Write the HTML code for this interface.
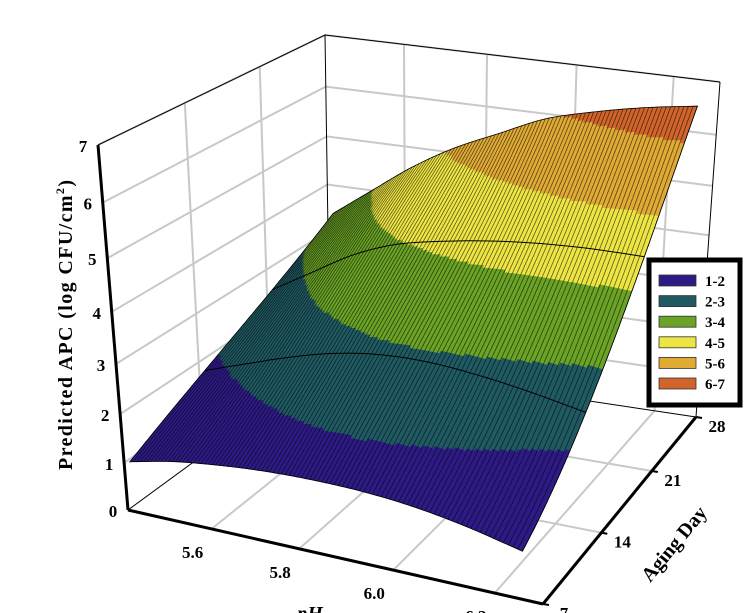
<!DOCTYPE html>
<html><head><meta charset="utf-8"><style>
html,body{margin:0;padding:0;background:#fff;width:749px;height:613px;overflow:hidden}
svg{display:block;font-family:"Liberation Serif",serif;font-weight:bold}
</style></head><body>
<svg id="chart" width="749" height="613" viewBox="0 0 749 613" xmlns="http://www.w3.org/2000/svg">
<g id="walls"></g>
<g id="surface"></g>
<g id="axes"></g>
<g id="legend"></g>
</svg>
<script>
// ---- data ----
const phValues = [5.41, 5.515, 5.62, 5.725, 5.83, 5.935, 6.04, 6.145, 6.25];
const dayValues = [7, 14, 21, 28];
const zDay7  = [1.05, 1.25, 1.38, 1.47, 1.51, 1.50, 1.42, 1.25, 1.00];
const zDay14 = [1.85, 2.15, 2.45, 2.70, 2.85, 2.88, 2.80, 2.65, 2.45];
const zDay21 = [2.60, 3.10, 3.60, 3.95, 4.15, 4.30, 4.40, 4.45, 4.45];
const zDay28 = [3.40, 4.00, 4.60, 5.10, 5.50, 5.90, 6.15, 6.35, 6.50];
const zTicks = [0, 1, 2, 3, 4, 5, 6, 7];
const phTicks = ["5.6", "5.8", "6.0", "6.2"];
const dayTicks = ["7", "14", "21", "28"];
const bandLabels = ["1-2", "2-3", "3-4", "4-5", "5-6", "6-7"];
const bandColors = ["#2e1a85", "#1f5a63", "#6aa325", "#ede544", "#e0aa35", "#d0642a"];
const zRows = [zDay7, zDay14, zDay21, zDay28];

// ---- projection ----
const PH0 = 5.395, PH1 = 6.29, D0 = 7, D1 = 28, ZMAX = 7;
function hom(p0, p1, p2, p3) {
  const sx = p0[0]-p1[0]+p2[0]-p3[0], sy = p0[1]-p1[1]+p2[1]-p3[1];
  const dx1 = p1[0]-p2[0], dx2 = p3[0]-p2[0], dy1 = p1[1]-p2[1], dy2 = p3[1]-p2[1];
  const den = dx1*dy2 - dx2*dy1;
  const g = (sx*dy2 - dx2*sy)/den, h = (dx1*sy - sx*dy1)/den;
  const a = p1[0]-p0[0]+g*p1[0], b = p3[0]-p0[0]+h*p3[0], c = p0[0];
  const d = p1[1]-p0[1]+g*p1[1], e = p3[1]-p0[1]+h*p3[1], f = p0[1];
  return (u, v) => { const w = g*u + h*v + 1; return [(a*u+b*v+c)/w, (d*u+e*v+f)/w]; };
}
const floorH = hom([128,510],[543,604],[696,417],[330,362]);
const topH = hom([98,145],[555,233],[720,82],[325,35]);
function proj(u, v, w) {
  const f = floorH(u, v), t = topH(u, v);
  const a = 0.89, g = a*w/(1+(a-1)*w);
  return [f[0]+(t[0]-f[0])*g, f[1]+(t[1]-f[1])*g];
}
const uOf = ph => (ph - PH0)/(PH1 - PH0);
const vOf = d => (d - D0)/(D1 - D0);
const wOf = z => z/ZMAX;

// ---- interpolation ----
function cr(p0,p1,p2,p3,t){return 0.5*((2*p1)+(-p0+p2)*t+(2*p0-5*p1+4*p2-p3)*t*t+(-p0+3*p1-3*p2+p3)*t*t*t);}
function rowAt(row, ph) {
  const n = phValues.length;
  let i = 0; while (i < n-2 && ph > phValues[i+1]) i++;
  const t = (ph - phValues[i])/(phValues[i+1]-phValues[i]);
  const p0 = i > 0 ? row[i-1] : 2*row[0]-row[1];
  const p3 = i+2 < n ? row[i+2] : 2*row[n-1]-row[n-2];
  return cr(p0, row[i], row[i+1], p3, t);
}
function zAt(ph, day) {
  const vals = zRows.map(r => rowAt(r, ph));
  let s = 0;
  for (let i = 0; i < 4; i++) {
    let l = 1;
    for (let j = 0; j < 4; j++) if (j !== i) l *= (day - dayValues[j])/(dayValues[i]-dayValues[j]);
    s += l*vals[i];
  }
  return s;
}
const NS = "http://www.w3.org/2000/svg";
function mk(tag, attrs, parent) { const e = document.createElementNS(NS, tag); for (const k in attrs) e.setAttribute(k, attrs[k]); parent.appendChild(e); return e; }
const pt = p => p[0].toFixed(1)+","+p[1].toFixed(1);

// ---- walls & floor grid ----
const walls = document.getElementById("walls");
const gs = {stroke:"#c8c8c8","stroke-width":2,fill:"none"};
zTicks.slice(1).forEach(z => {
  const a = mk("polyline", Object.assign({points: pt(proj(0,0,wOf(z)))+" "+pt(proj(0,1,wOf(z)))+" "+pt(proj(1,1,wOf(z)))}, gs), walls);
  
  
});
phTicks.forEach(t => {
  const u = uOf(parseFloat(t));
  const a = mk("polyline", Object.assign({points: pt(proj(u,0,0))+" "+pt(proj(u,1,0))+" "+pt(proj(u,1,1))}, gs), walls);
  
  
});
dayTicks.slice(1,3).forEach(t => {
  const v = vOf(parseFloat(t));
  const a = mk("polyline", Object.assign({points: pt(proj(1,v,0))+" "+pt(proj(0,v,0))+" "+pt(proj(0,v,1))}, gs), walls);
  
  
});
const thin = {stroke:"#000","stroke-width":1,fill:"none"};
[[proj(0,0,1),proj(0,1,1),proj(1,1,1)],[proj(0,1,0),proj(0,1,1)],[proj(1,1,0),proj(1,1,1)],[proj(0,0,0),proj(0,1,0),proj(1,1,0)]].forEach(ps => {
  const a = mk("polyline", Object.assign({points: ps.map(pt).join(" ")}, thin), walls);
  
  
});

// ---- surface ----
const surf = document.getElementById("surface");
const P0 = phValues[0], P1 = phValues[phValues.length-1];
const NU = 120, NV = 150;
const grid = [];
for (let i = 0; i <= NU; i++) { grid.push([]); const ph = P0+(P1-P0)*i/NU;
  for (let j = 0; j <= NV; j++) { const d = D0+(D1-D0)*j/NV; const z = zAt(ph, d);
    grid[i].push({p: proj(uOf(ph), vOf(d), wOf(z)), z}); } }
const cells = [];
for (let i = 0; i < NU; i++) for (let j = 0; j < NV; j++) cells.push([i,j]);
cells.sort((a,b) => ((1-b[0]/NU)+b[1]/NV) - ((1-a[0]/NU)+a[1]/NV));
cells.forEach(([i,j]) => {
  const c = [grid[i][j], grid[i+1][j], grid[i+1][j+1], grid[i][j+1]];
  const z = (c[0].z+c[1].z+c[2].z+c[3].z)/4;
  const b = Math.max(0, Math.min(5, Math.floor(z)-1));
  const col = bandColors[b];
  const q = mk("polygon", {points: c.map(o => pt(o.p)).join(" "), fill: col, stroke: col, "stroke-width": 0.5}, surf);
  
  
});
// mesh lines along constant pH
const NM = 96;
for (let k = 0; k <= NM; k++) {
  const ph = P0+(P1-P0)*k/NM; const ps = [];
  for (let j = 0; j <= 30; j++) { const d = D0+(D1-D0)*j/30; ps.push(pt(proj(uOf(ph), vOf(d), wOf(zAt(ph,d))))); }
  const m = mk("polyline", {points: ps.join(" "), stroke:"#000", "stroke-opacity":0.6, "stroke-width":0.8, fill:"none"}, surf);
  
  
}
// constant day curves and outline
[14, 21].forEach(d => {
  const ps = []; for (let i = 0; i <= 40; i++) { const ph = P0+(P1-P0)*i/40; ps.push(pt(proj(uOf(ph), vOf(d), wOf(zAt(ph,d))))); }
  const m = mk("polyline", {points: ps.join(" "), stroke:"#000", "stroke-width":1, fill:"none"}, surf);
  
  
});
{
  const ps = [];
  for (let i = 0; i <= NU; i++) ps.push(pt(grid[i][0].p));
  for (let j = 0; j <= NV; j++) ps.push(pt(grid[NU][j].p));
  for (let i = NU; i >= 0; i--) ps.push(pt(grid[i][NV].p));
  for (let j = NV; j >= 0; j--) ps.push(pt(grid[0][j].p));
  const o = mk("polygon", {points: ps.join(" "), stroke:"#000", "stroke-width":0.8, fill:"none"}, surf);
  
  
}

// ---- axes ----
const axes = document.getElementById("axes");
const thick = {stroke:"#000","stroke-width":3,fill:"none"};
[["z-axis-line",[proj(0,0,0),proj(0,0,1)]],["ph-axis-line",[proj(0,0,0),proj(1,0,0)]],["day-axis-line",[proj(1,0,0),proj(1,1,0)]]].forEach(([n,ps]) => {
  const a = mk("polyline", Object.assign({points: ps.map(pt).join(" ")}, thick), axes);
  
  
});
zTicks.forEach(z => {
  const p = proj(0,0,wOf(z));
  const t = mk("text", {x: p[0]-15, y: p[1]+7, "font-size": 17, "text-anchor":"middle"}, axes);
  t.textContent = z;
  
  
});
phTicks.forEach(s => {
  const p = proj(uOf(parseFloat(s)),0,0);
  const t = mk("text", {x: p[0]-19, y: p[1]+29, "font-size": 17, "text-anchor":"middle"}, axes);
  t.textContent = s;
  
  
});
dayTicks.forEach(s => {
  const p = proj(1, vOf(parseFloat(s)), 0);
  const tk = mk("line", {x1:p[0], y1:p[1], x2:p[0]+6, y2:p[1]+1, stroke:"#000","stroke-width":2}, axes);
  
  
  const t = mk("text", {x: p[0]+21, y: p[1]+15, "font-size": 17, "text-anchor":"middle"}, axes);
  t.textContent = s;
  
  
});
{
  const t = mk("text", {x: 310, y: 620, "font-size": 20, "text-anchor":"middle", "font-style":"italic"}, axes);
  t.textContent = "pH";
  
  
  const a = mk("text", {x: 0, y: 0, "font-size": 20, "text-anchor":"middle", transform:"translate(679,548) rotate(-50.5)"}, axes);
  a.textContent = "Aging Day";
  
  
  const y = mk("text", {x: 0, y: 0, "font-size": 20, "text-anchor":"middle", textLength: 290, lengthAdjust:"spacing", transform:"translate(72,325) rotate(-90)"}, axes);
  y.innerHTML = 'Predicted APC (log CFU/cm<tspan dy="-8" font-size="12">2</tspan><tspan dy="8">)</tspan>';
  
  
}

// ---- legend ----
const lg = document.getElementById("legend");
{
  const r = mk("rect", {x: 649, y: 260, width: 91, height: 145, fill:"#fff", stroke:"#000", "stroke-width": 5}, lg);
  
  
}
bandLabels.forEach((s, i) => {
  const y = 275 + i*20.6;
  const sw = mk("rect", {x: 659, y: y, width: 37, height: 11, fill: bandColors[i], stroke:"#333", "stroke-width": 0.8}, lg);
  
  
  const t = mk("text", {x: 705, y: y+11, "font-size": 15}, lg);
  t.textContent = s;
  
  
});
</script>
</body></html>
